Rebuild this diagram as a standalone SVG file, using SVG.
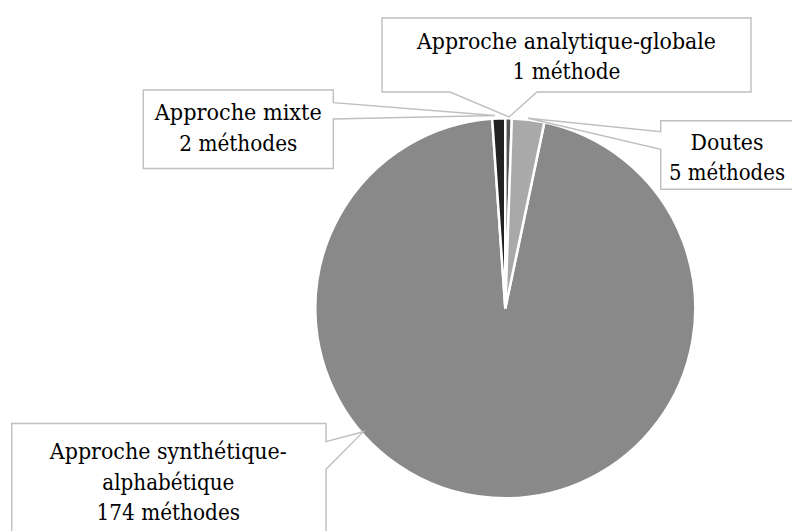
<svg xmlns="http://www.w3.org/2000/svg" width="792" height="531" viewBox="0 0 792 531">
<style>
.slice{stroke:#ffffff;stroke-width:2.5;stroke-linejoin:miter}
.callout{fill:#ffffff;stroke:#bfbfbf;stroke-width:1.4}
.lbl{font-family:"DejaVu Serif","Liberation Serif",serif;font-size:22.5px;fill:#000000;text-anchor:middle}
</style>
<rect width="792" height="531" fill="#ffffff"/>
<g id="pie">
  <path id="slice-synthetique" class="slice" fill="#898989" d="M505.3,308.3 L544.38,122.36 A190,190 0 1 1 492.19,118.75 Z"/>
  <path id="slice-mixte" class="slice" fill="#222222" d="M505.3,308.3 L492.19,118.75 A190,190 0 0 1 505.3,118.3 Z"/>
  <path id="slice-analytique" class="slice" fill="#555555" d="M505.3,308.3 L505.3,118.3 A190,190 0 0 1 511.86,118.41 Z"/>
  <path id="slice-doutes" class="slice" fill="#a9a9a9" d="M505.3,308.3 L511.86,118.41 A190,190 0 0 1 544.38,122.36 Z"/>
</g>
<g id="connectors">
</g>
<g id="label-analytique">
  <path class="callout" d="M382,18 L751,18 L751,92 L537,92 L509,117 L450,92 L382,92 Z"/>
  <text class="lbl" x="566.5" y="49.3" textLength="299" lengthAdjust="spacingAndGlyphs">Approche analytique-globale</text>
  <text class="lbl" x="566.5" y="79.3" textLength="108" lengthAdjust="spacingAndGlyphs">1 méthode</text>
</g>
<g id="label-mixte">
  <path class="callout" d="M143.3,90 L333.3,90 L333.3,102.7 L495,115.5 L333.3,119 L333.3,168.5 L143.3,168.5 Z"/>
  <text class="lbl" x="238.3" y="120" textLength="167" lengthAdjust="spacingAndGlyphs">Approche mixte</text>
  <text class="lbl" x="238.3" y="150.5" textLength="118" lengthAdjust="spacingAndGlyphs">2 méthodes</text>
</g>
<g id="label-doutes">
  <path class="callout" d="M660.7,120.7 L800,120.7 L800,189.3 L660.7,189.3 L660.7,149.3 L528.3,118.3 L660.7,131.7 Z"/>
  <text class="lbl" x="727" y="150" textLength="73" lengthAdjust="spacingAndGlyphs">Doutes</text>
  <text class="lbl" x="727" y="180" textLength="116" lengthAdjust="spacingAndGlyphs">5 méthodes</text>
</g>
<g id="label-synthetique">
  <path class="callout" d="M11.7,423.5 L326,423.5 L326,441.7 L363.3,431.7 L326,469.3 L326,545 L11.7,545 Z"/>
  <text class="lbl" x="168.3" y="459.3" textLength="237" lengthAdjust="spacingAndGlyphs">Approche synthétique-</text>
  <text class="lbl" x="168.3" y="490" textLength="132" lengthAdjust="spacingAndGlyphs">alphabétique</text>
  <text class="lbl" x="168.3" y="519.5" textLength="143.5" lengthAdjust="spacingAndGlyphs">174 méthodes</text>
</g>
</svg>
